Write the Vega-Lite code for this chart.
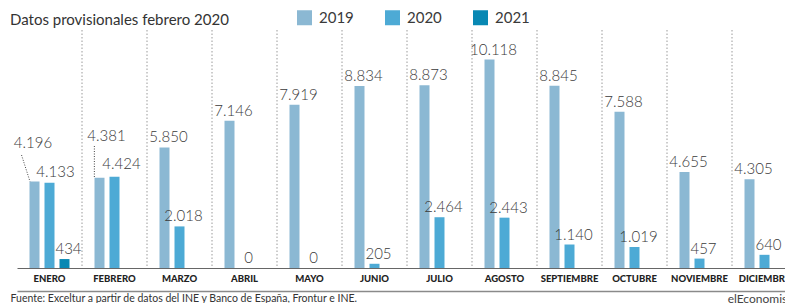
{
  "$schema": "https://vega.github.io/schema/vega-lite/v6.json",
  "width": 780,
  "height": 238,
  "autosize": {"type": "none"},
  "padding": {"left": 17, "top": 30, "right": 0, "bottom": 35},
  "background": "white",
  "config": {
    "view": {"stroke": null},
    "font": "Lato",
    "locale": {"number": {"decimal": ",", "thousands": ".", "grouping": [3], "currency": ["", " €"]}}
  },
  "title": {
    "text": "Datos provisionales febrero 2020",
    "anchor": "start",
    "frame": "group",
    "dx": -7,
    "dy": 37,
    "offset": 7,
    "baseline": "alphabetic",
    "fontSize": 15,
    "fontWeight": "normal",
    "color": "#333333",
    "font": "Lato"
  },
  "datasets": {
    "bars": [
      {"month": "ENERO", "year": "2019", "value": 4196},
      {"month": "FEBRERO", "year": "2019", "value": 4381},
      {"month": "MARZO", "year": "2019", "value": 5850},
      {"month": "ABRIL", "year": "2019", "value": 7146},
      {"month": "MAYO", "year": "2019", "value": 7919},
      {"month": "JUNIO", "year": "2019", "value": 8834},
      {"month": "JULIO", "year": "2019", "value": 8873},
      {"month": "AGOSTO", "year": "2019", "value": 10118},
      {"month": "SEPTIEMBRE", "year": "2019", "value": 8845},
      {"month": "OCTUBRE", "year": "2019", "value": 7588},
      {"month": "NOVIEMBRE", "year": "2019", "value": 4655},
      {"month": "DICIEMBRE", "year": "2019", "value": 4305},
      {"month": "ENERO", "year": "2020", "value": 4133},
      {"month": "FEBRERO", "year": "2020", "value": 4424},
      {"month": "MARZO", "year": "2020", "value": 2018},
      {"month": "ABRIL", "year": "2020", "value": 0},
      {"month": "MAYO", "year": "2020", "value": 0},
      {"month": "JUNIO", "year": "2020", "value": 205},
      {"month": "JULIO", "year": "2020", "value": 2464},
      {"month": "AGOSTO", "year": "2020", "value": 2443},
      {"month": "SEPTIEMBRE", "year": "2020", "value": 1140},
      {"month": "OCTUBRE", "year": "2020", "value": 1019},
      {"month": "NOVIEMBRE", "year": "2020", "value": 457},
      {"month": "DICIEMBRE", "year": "2020", "value": 640},
      {"month": "ENERO", "year": "2021", "value": 434}
    ],
    "separators": [
      {"month": "FEBRERO"}, {"month": "MARZO"}, {"month": "ABRIL"}, {"month": "MAYO"},
      {"month": "JUNIO"}, {"month": "JULIO"}, {"month": "AGOSTO"}, {"month": "SEPTIEMBRE"},
      {"month": "OCTUBRE"}, {"month": "NOVIEMBRE"}, {"month": "DICIEMBRE"}
    ],
    "leaders": [
      {"month": "ENERO", "top": 5480, "bottom": 4196},
      {"month": "FEBRERO", "top": 5920, "bottom": 4381}
    ]
  },
  "layer": [
    {
      "data": {"name": "separators"},
      "mark": {"type": "rule", "stroke": "#9a9a9a", "strokeDash": [1.5, 2], "strokeWidth": 1},
      "encoding": {
        "x": {"field": "month", "type": "nominal", "bandPosition": 0, "axis": null,
              "scale": {"domain": ["ENERO","FEBRERO","MARZO","ABRIL","MAYO","JUNIO","JULIO","AGOSTO","SEPTIEMBRE","OCTUBRE","NOVIEMBRE","DICIEMBRE"], "paddingInner": 0, "paddingOuter": 0}}
      }
    },
    {
      "data": {"name": "bars"},
      "mark": {"type": "bar"},
      "encoding": {
        "x": {"field": "month", "type": "nominal",
              "scale": {"domain": ["ENERO","FEBRERO","MARZO","ABRIL","MAYO","JUNIO","JULIO","AGOSTO","SEPTIEMBRE","OCTUBRE","NOVIEMBRE","DICIEMBRE"], "paddingInner": 0, "paddingOuter": 0},
              "axis": {
                "title": "Fuente: Exceltur a partir de datos del INE y Banco de España, Frontur e INE.",
                "titleAnchor": "start", "titleAlign": "left", "titleX": -7, "titleY": 25,
                "titleBaseline": "top", "titleFontSize": 10.5, "titleFontWeight": "normal",
                "titleColor": "#333333", "titleFont": "Lato",
                "labelFontSize": 9.5, "labelFontWeight": 900, "labelColor": "#222222",
                "labelPadding": 5, "labelAngle": 0, "ticks": false, "tickSize": 0,
                "domainColor": "#666666", "domainWidth": 1, "grid": false
              }},
        "xOffset": {"field": "year", "type": "nominal",
                    "scale": {"domain": ["2019","2020","2021"], "paddingInner": 0.3333, "paddingOuter": 0.8333}},
        "y": {"field": "value", "type": "quantitative", "axis": null,
              "scale": {"domain": [0, 11550], "nice": false, "zero": true}},
        "color": {"field": "year", "type": "nominal",
                  "scale": {"domain": ["2019","2020","2021"], "range": ["#8bb8d3", "#4daad5", "#0888b3"]},
                  "legend": {
                    "title": null, "orient": "none", "legendX": 280, "legendY": -20,
                    "direction": "horizontal", "symbolType": "square", "symbolSize": 225,
                    "symbolStrokeWidth": 0, "labelFontSize": 15, "labelFont": "Lato",
                    "labelColor": "#3a3a3a", "labelOffset": 7, "columnPadding": 31, "padding": 0
                  }}
      }
    },
    {
      "data": {"name": "bars"},
      "transform": [{"filter": "!(datum.month === 'ENERO' && datum.year !== '2021') && datum.month !== 'FEBRERO'"}],
      "mark": {"type": "text", "baseline": "alphabetic", "align": "center", "dx": 4, "dy": -5, "fontSize": 15, "fontWeight": 300, "color": "#3a3a3a", "font": "Lato"},
      "encoding": {
        "x": {"field": "month", "type": "nominal", "axis": null,
              "scale": {"domain": ["ENERO","FEBRERO","MARZO","ABRIL","MAYO","JUNIO","JULIO","AGOSTO","SEPTIEMBRE","OCTUBRE","NOVIEMBRE","DICIEMBRE"], "paddingInner": 0, "paddingOuter": 0}},
        "xOffset": {"field": "year", "type": "nominal",
                    "scale": {"domain": ["2019","2020","2021"], "paddingInner": 0.3333, "paddingOuter": 0.8333}},
        "y": {"field": "value", "type": "quantitative", "axis": null,
              "scale": {"domain": [0, 11550], "nice": false, "zero": true}},
        "text": {"field": "value", "type": "quantitative", "format": ",.0f"}
      }
    },
    {
      "data": {"name": "bars"},
      "transform": [{"filter": "datum.month === 'ENERO' && datum.year === '2019'"}],
      "mark": {"type": "text", "baseline": "alphabetic", "align": "center", "dx": -1.5, "dy": -33.5, "fontSize": 15, "fontWeight": 300, "color": "#3a3a3a", "font": "Lato"},
      "encoding": {
        "x": {"field": "month", "type": "nominal", "axis": null,
              "scale": {"domain": ["ENERO","FEBRERO","MARZO","ABRIL","MAYO","JUNIO","JULIO","AGOSTO","SEPTIEMBRE","OCTUBRE","NOVIEMBRE","DICIEMBRE"], "paddingInner": 0, "paddingOuter": 0}},
        "xOffset": {"field": "year", "type": "nominal",
                    "scale": {"domain": ["2019","2020","2021"], "paddingInner": 0.3333, "paddingOuter": 0.8333}},
        "y": {"field": "value", "type": "quantitative", "axis": null,
              "scale": {"domain": [0, 11550], "nice": false, "zero": true}},
        "text": {"field": "value", "type": "quantitative", "format": ",.0f"}
      }
    },
    {
      "data": {"name": "bars"},
      "transform": [{"filter": "datum.month === 'FEBRERO' && datum.year === '2019'"}],
      "mark": {"type": "text", "baseline": "alphabetic", "align": "center", "dx": 7, "dy": -36.7, "fontSize": 15, "fontWeight": 300, "color": "#3a3a3a", "font": "Lato"},
      "encoding": {
        "x": {"field": "month", "type": "nominal", "axis": null,
              "scale": {"domain": ["ENERO","FEBRERO","MARZO","ABRIL","MAYO","JUNIO","JULIO","AGOSTO","SEPTIEMBRE","OCTUBRE","NOVIEMBRE","DICIEMBRE"], "paddingInner": 0, "paddingOuter": 0}},
        "xOffset": {"field": "year", "type": "nominal",
                    "scale": {"domain": ["2019","2020","2021"], "paddingInner": 0.3333, "paddingOuter": 0.8333}},
        "y": {"field": "value", "type": "quantitative", "axis": null,
              "scale": {"domain": [0, 11550], "nice": false, "zero": true}},
        "text": {"field": "value", "type": "quantitative", "format": ",.0f"}
      }
    },
    {
      "data": {"name": "bars"},
      "transform": [{"filter": "datum.month === 'FEBRERO' && datum.year === '2020'"}],
      "mark": {"type": "text", "baseline": "alphabetic", "align": "center", "dx": 7, "dy": -7.8, "fontSize": 15, "fontWeight": 300, "color": "#3a3a3a", "font": "Lato"},
      "encoding": {
        "x": {"field": "month", "type": "nominal", "axis": null,
              "scale": {"domain": ["ENERO","FEBRERO","MARZO","ABRIL","MAYO","JUNIO","JULIO","AGOSTO","SEPTIEMBRE","OCTUBRE","NOVIEMBRE","DICIEMBRE"], "paddingInner": 0, "paddingOuter": 0}},
        "xOffset": {"field": "year", "type": "nominal",
                    "scale": {"domain": ["2019","2020","2021"], "paddingInner": 0.3333, "paddingOuter": 0.8333}},
        "y": {"field": "value", "type": "quantitative", "axis": null,
              "scale": {"domain": [0, 11550], "nice": false, "zero": true}},
        "text": {"field": "value", "type": "quantitative", "format": ",.0f"}
      }
    },
    {
      "data": {"name": "bars"},
      "transform": [{"filter": "datum.month === 'ENERO' && datum.year === '2020'"}],
      "mark": {"type": "text", "baseline": "alphabetic", "align": "center", "dx": 6, "dy": -5.8, "fontSize": 15, "fontWeight": 300, "color": "#3a3a3a", "font": "Lato"},
      "encoding": {
        "x": {"field": "month", "type": "nominal", "axis": null,
              "scale": {"domain": ["ENERO","FEBRERO","MARZO","ABRIL","MAYO","JUNIO","JULIO","AGOSTO","SEPTIEMBRE","OCTUBRE","NOVIEMBRE","DICIEMBRE"], "paddingInner": 0, "paddingOuter": 0}},
        "xOffset": {"field": "year", "type": "nominal",
                    "scale": {"domain": ["2019","2020","2021"], "paddingInner": 0.3333, "paddingOuter": 0.8333}},
        "y": {"field": "value", "type": "quantitative", "axis": null,
              "scale": {"domain": [0, 11550], "nice": false, "zero": true}},
        "text": {"field": "value", "type": "quantitative", "format": ",.0f"}
      }
    },
    {
      "data": {"name": "leaders"},
      "transform": [{"filter": "datum.month === 'ENERO'"}],
      "mark": {"type": "rule", "stroke": "#444444", "strokeDash": [1, 1.5], "strokeWidth": 1},
      "encoding": {
        "x": {"field": "month", "type": "nominal", "bandPosition": 0.07, "axis": null,
              "scale": {"domain": ["ENERO","FEBRERO","MARZO","ABRIL","MAYO","JUNIO","JULIO","AGOSTO","SEPTIEMBRE","OCTUBRE","NOVIEMBRE","DICIEMBRE"], "paddingInner": 0, "paddingOuter": 0}},
        "x2": {"field": "month", "bandPosition": 0.2},
        "y": {"field": "top", "type": "quantitative", "axis": null,
              "scale": {"domain": [0, 11550], "nice": false, "zero": true}},
        "y2": {"field": "bottom"}
      }
    },
    {
      "data": {"name": "leaders"},
      "transform": [{"filter": "datum.month === 'FEBRERO'"}],
      "mark": {"type": "rule", "stroke": "#444444", "strokeDash": [1, 1.5], "strokeWidth": 1},
      "encoding": {
        "x": {"field": "month", "type": "nominal", "bandPosition": 0.19,
              "scale": {"domain": ["ENERO","FEBRERO","MARZO","ABRIL","MAYO","JUNIO","JULIO","AGOSTO","SEPTIEMBRE","OCTUBRE","NOVIEMBRE","DICIEMBRE"], "paddingInner": 0, "paddingOuter": 0},
              "axis": {
                "orient": "bottom", "offset": 23, "labels": false, "ticks": false, "grid": false,
                "domainColor": "#8a8a8a", "domainWidth": 1.3,
                "title": "elEconomista", "titleAnchor": "end", "titleAlign": "right",
                "titleX": 780, "titleY": 2, "titleBaseline": "top", "titleFontSize": 12,
                "titleFontWeight": "normal", "titleColor": "#444444", "titleFont": "Lato"
              }},
        "y": {"field": "top", "type": "quantitative", "axis": null,
              "scale": {"domain": [0, 11550], "nice": false, "zero": true}},
        "y2": {"field": "bottom"}
      }
    }
  ],
  "resolve": {"axis": {"x": "independent"}}
}
